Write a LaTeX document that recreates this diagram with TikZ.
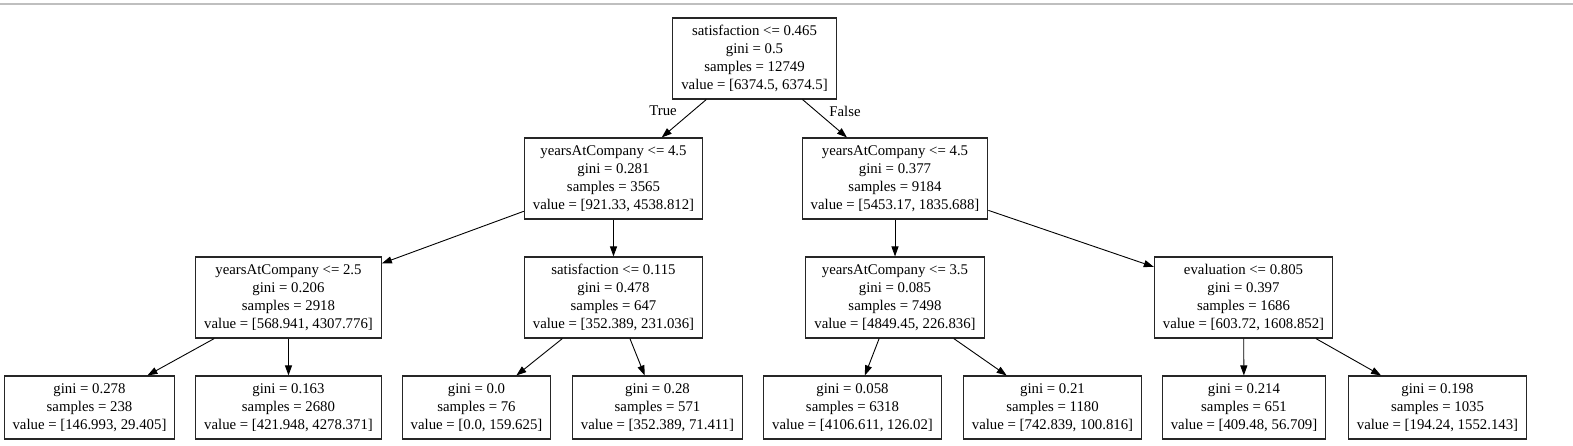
\documentclass[tikz,border=0pt]{standalone}
\usepackage{fontspec}
\setmainfont{Liberation Serif}
\usetikzlibrary{arrows.meta}
\begin{document}
\begin{tikzpicture}[x=1pt,y=-1pt,>={Triangle[length=10pt,width=7pt]},
    split/.style={draw=black!85,line width=1.1pt,align=center,inner xsep=8.5pt,inner ysep=0pt,
        minimum height=81pt,font=\fontsize{14.8}{18}\selectfont},
    leaf/.style={split,minimum height=63pt},
    lbl/.style={font=\fontsize{14.8}{18}\selectfont},
    edge/.style={->,line width=0.9pt}]
    \useasboundingbox (0,0) rectangle (1573,446);
    \def\ya{58.5} \def\yb{178.5} \def\yc{297.5} \def\yd{407.5} % Tầng
    \draw[color=gray!50,line width=1.5pt] (0,4)--(1573,4);
    \node[split] (root) at (754.5,\ya) {satisfaction <= 0.465\\gini = 0.5\\samples = 12749\\value = [6374.5, 6374.5]};
    \node[split] (yrsL) at (613.5,\yb) {yearsAtCompany <= 4.5\\gini = 0.281\\samples = 3565\\value = [921.33, 4538.812]};
    \node[split] (yrsR) at (895,\yb) {yearsAtCompany <= 4.5\\gini = 0.377\\samples = 9184\\value = [5453.17, 1835.688]};
    \node[split] (yrsA) at (288.5,\yc) {yearsAtCompany <= 2.5\\gini = 0.206\\samples = 2918\\value = [568.941, 4307.776]};
    \node[split] (satB) at (613.5,\yc) {satisfaction <= 0.115\\gini = 0.478\\samples = 647\\value = [352.389, 231.036]};
    \node[split] (yrsC) at (895,\yc) {yearsAtCompany <= 3.5\\gini = 0.085\\samples = 7498\\value = [4849.45, 226.836]};
    \node[split] (evalD) at (1243.5,\yc) {evaluation <= 0.805\\gini = 0.397\\samples = 1686\\value = [603.72, 1608.852]};
    \node[leaf] (leaf1) at (89.5,\yd) {gini = 0.278\\samples = 238\\value = [146.993, 29.405]};
    \node[leaf] (leaf2) at (288.5,\yd) {gini = 0.163\\samples = 2680\\value = [421.948, 4278.371]};
    \node[leaf] (leaf3) at (476.5,\yd) {gini = 0.0\\samples = 76\\value = [0.0, 159.625]};
    \node[leaf] (leaf4) at (657.5,\yd) {gini = 0.28\\samples = 571\\value = [352.389, 71.411]};
    \node[leaf] (leaf5) at (852.5,\yd) {gini = 0.058\\samples = 6318\\value = [4106.611, 126.02]};
    \node[leaf] (leaf6) at (1052.5,\yd) {gini = 0.21\\samples = 1180\\value = [742.839, 100.816]};
    \node[leaf] (leaf7) at (1244,\yd) {gini = 0.214\\samples = 651\\value = [409.48, 56.709]};
    \node[leaf] (leaf8) at (1437.5,\yd) {gini = 0.198\\samples = 1035\\value = [194.24, 1552.143]};
    \node[lbl] (ltrue) at (663,111) {True};
    \node[lbl] (lfalse) at (845,111) {False};
    \draw[edge] (root)--(yrsL); \draw[edge] (root)--(yrsR);
    \draw[edge] (yrsL)--(yrsA); \draw[edge] (yrsL)--(satB);
    \draw[edge] (yrsR)--(yrsC); \draw[edge] (yrsR)--(evalD);
    \draw[edge] (yrsA)--(leaf1); \draw[edge] (yrsA)--(leaf2);
    \draw[edge] (satB)--(leaf3); \draw[edge] (satB)--(leaf4);
    \draw[edge] (yrsC)--(leaf5); \draw[edge] (yrsC)--(leaf6);
    \draw[edge] (evalD)--(leaf7); \draw[edge] (evalD)--(leaf8);
\end{tikzpicture}
\end{document}
